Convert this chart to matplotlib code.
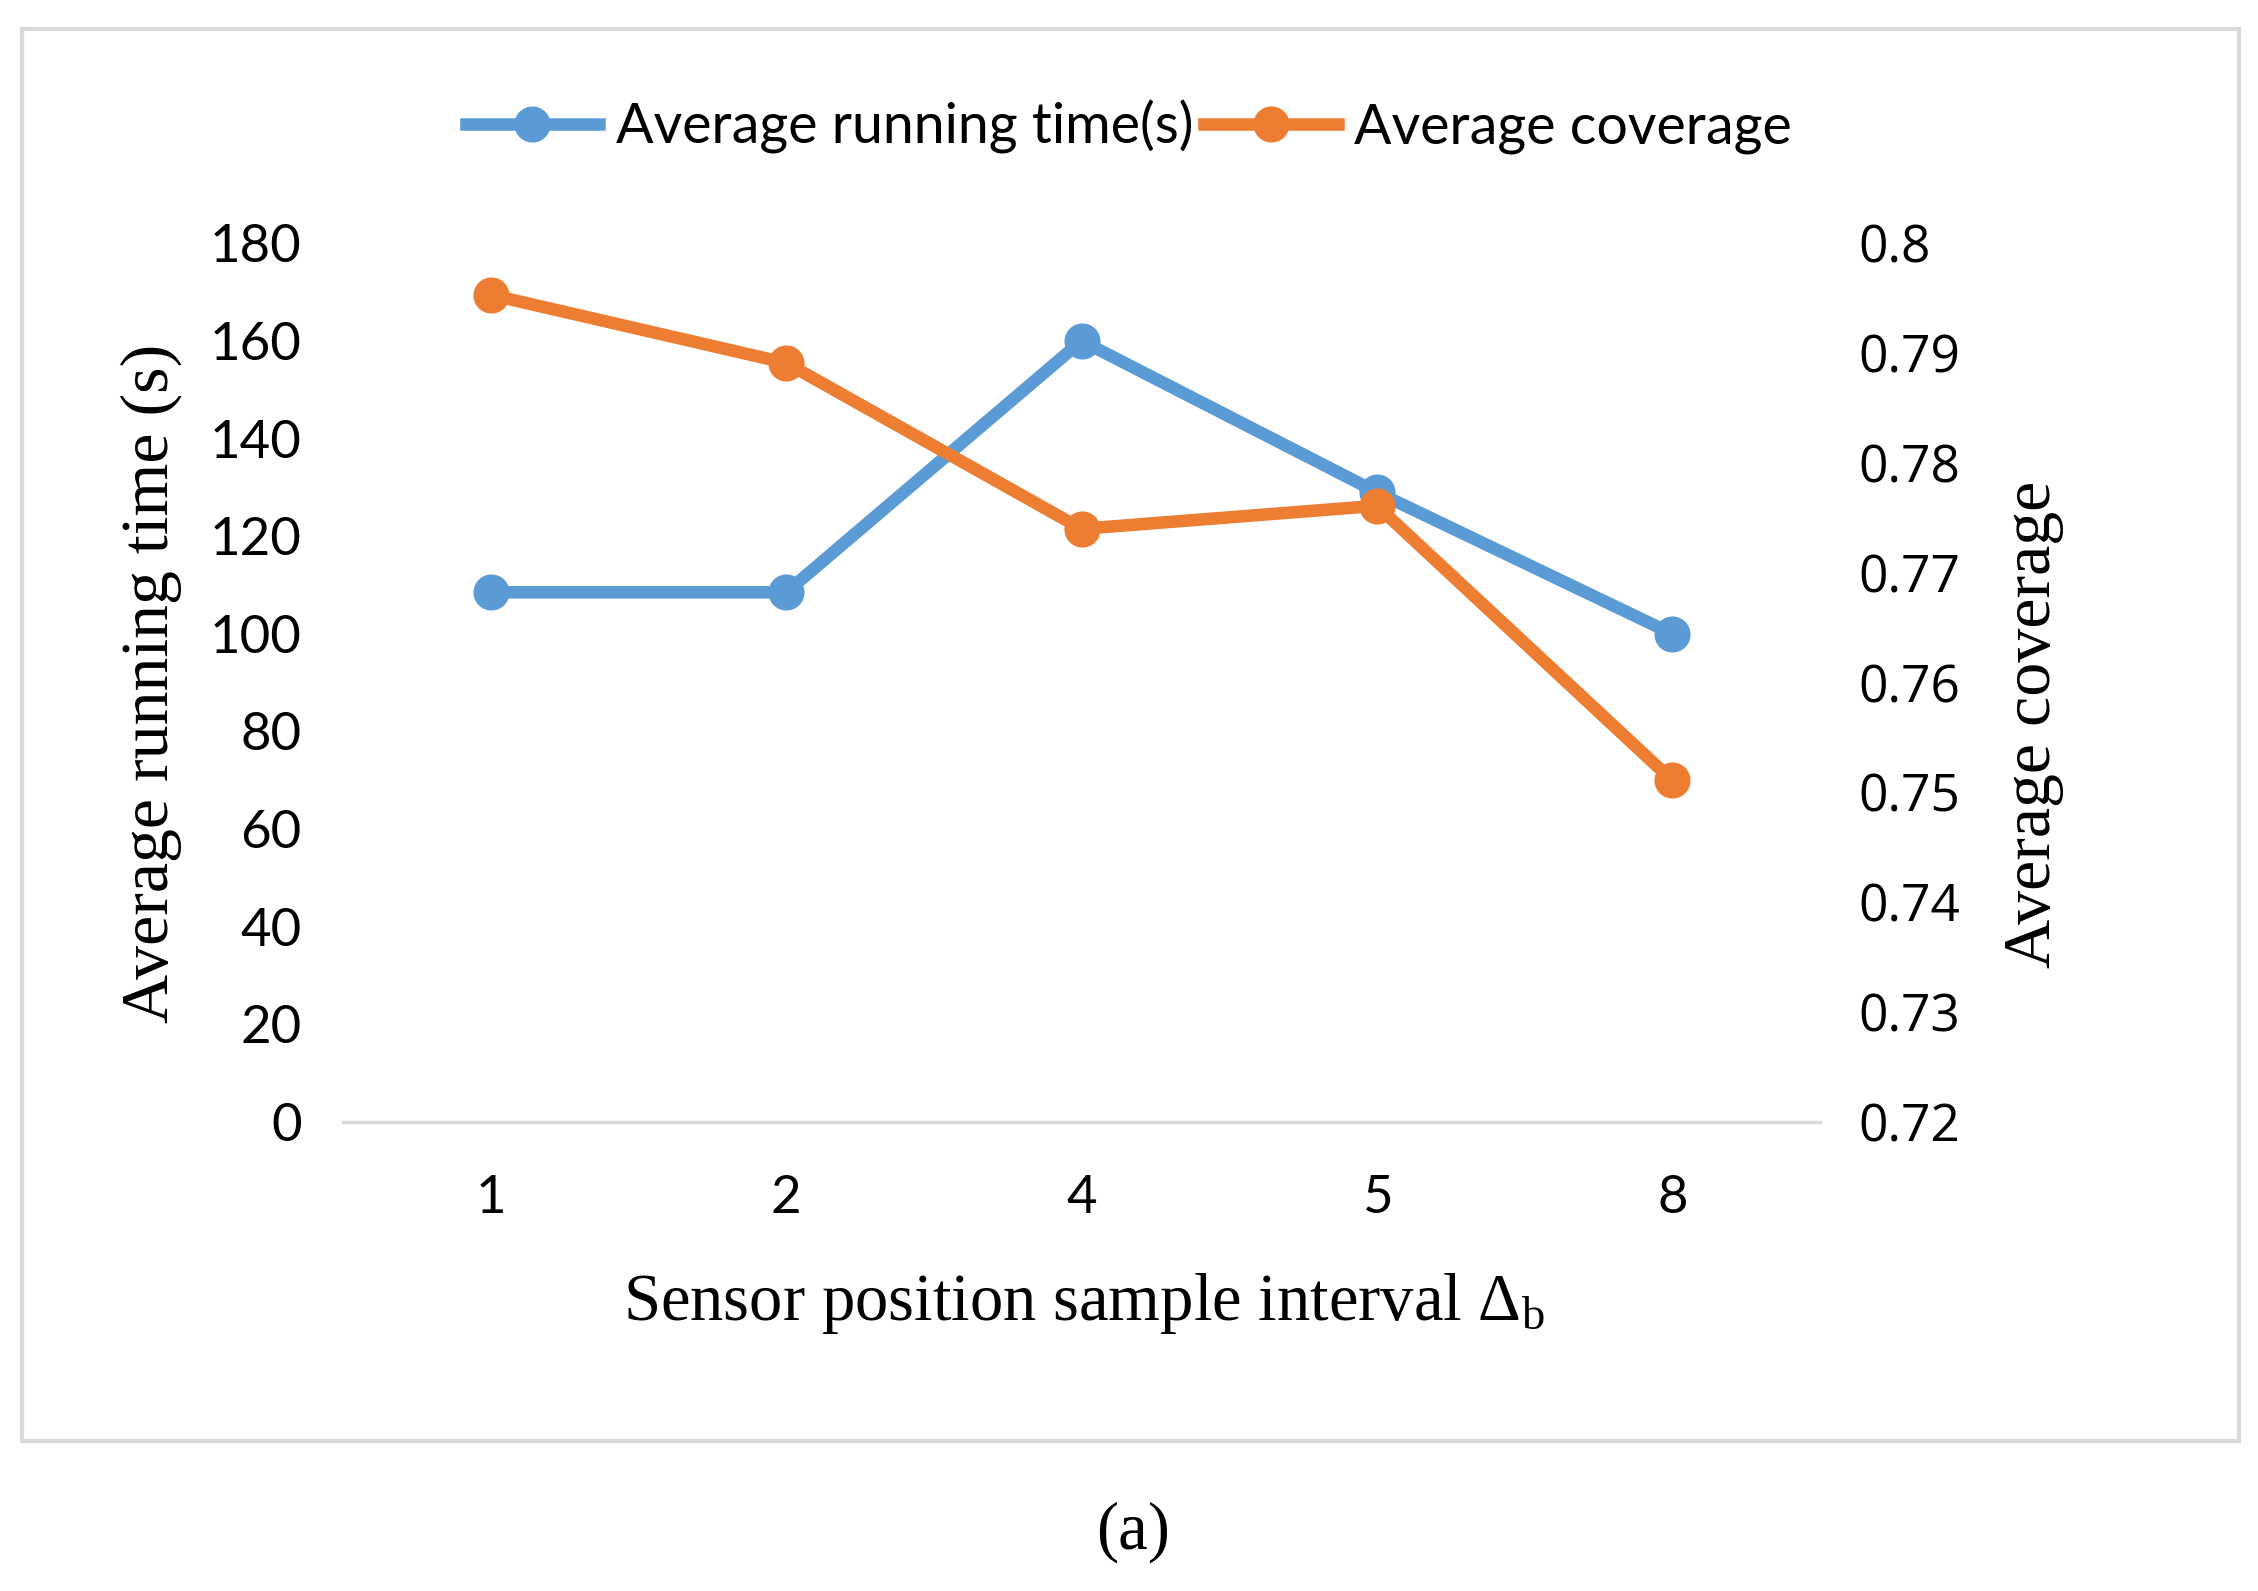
import matplotlib
matplotlib.use('Agg')
import matplotlib.pyplot as plt
from matplotlib.patches import Rectangle

# data
intervals = ['1', '2', '4', '5', '8']
run_time = [108.5, 108.5, 160, 129, 100]
coverage = [0.7953, 0.7891, 0.7740, 0.7761, 0.7511]

left_ticks = [0, 20, 40, 60, 80, 100, 120, 140, 160, 180]
right_ticks = [0.72, 0.73, 0.74, 0.75, 0.76, 0.77, 0.78, 0.79, 0.8]
right_labels = ['0.72', '0.73', '0.74', '0.75', '0.76', '0.77', '0.78', '0.79', '0.8']

blue = '#5B9BD5'
orange = '#ED7D31'
grey = '#D9D9D9'
tick_font = 'Lato'
serif = 'Liberation Serif'

plt.rcParams['mathtext.fontset'] = 'custom'
plt.rcParams['mathtext.rm'] = serif
plt.rcParams['mathtext.it'] = serif + ':italic'

fig = plt.figure(figsize=(22.58, 15.91), dpi=100)
fig.patches.append(Rectangle((0.0096, 0.094), 0.9821, 0.888, transform=fig.transFigure,
                             fill=False, edgecolor=grey, linewidth=3))

ax = fig.add_axes([0.152, 0.2948, 0.654, 0.5523])
ax2 = ax.twinx()
x = list(range(len(intervals)))

l1, = ax.plot(x, run_time, color=blue, linewidth=9, marker='o', markersize=25,
              label='Average running time(s)', zorder=3)
l2, = ax2.plot(x, coverage, color=orange, linewidth=9, marker='o', markersize=25,
               label='Average coverage', zorder=3)

ax.set_xlim(-0.5, len(intervals) - 0.5)
ax.set_ylim(0, 180)
ax2.set_ylim(0.72, 0.8)
ax.set_yticks(left_ticks)
ax2.set_yticks(right_ticks)
ax2.set_yticklabels(right_labels)
ax.set_xticks(x)
ax.set_xticklabels(intervals)

for a in (ax, ax2):
    for s in a.spines.values():
        s.set_visible(False)
    a.tick_params(length=0)
ax.spines['bottom'].set_visible(True)
ax.spines['bottom'].set_color(grey)
ax.spines['bottom'].set_linewidth(2.5)

ax.tick_params(axis='y', pad=30, labelsize=38)
ax.tick_params(axis='x', pad=38, labelsize=38)
ax2.tick_params(axis='y', pad=28, labelsize=37)
for lab in ax.get_xticklabels() + ax.get_yticklabels():
    lab.set_fontfamily(tick_font)
for lab in ax2.get_yticklabels():
    lab.set_fontfamily('Open Sans')

fig.text(0.067, 0.5705, 'Average running time (s)', rotation=90, ha='center', va='center',
         fontsize=49, fontfamily=serif)
fig.text(0.9006, 0.545, 'Average coverage', rotation=90, ha='center', va='center',
         fontsize=49, fontfamily=serif)
fig.text(0.48, 0.181, r'Sensor position sample interval $\Delta_\mathrm{b}$', ha='center', va='center',
         fontsize=48, fontfamily=serif)
fig.text(0.502, 0.037, '(a)', ha='center', va='center', fontsize=48, fontfamily=serif)

fig.legend(handles=[l1, l2], loc='center', bbox_to_anchor=(0.5, 0.92), ncol=2, frameon=False,
           prop={'family': tick_font, 'size': 40}, handlelength=2.4, columnspacing=0.2,
           handletextpad=0.3)

fig.savefig('out.png', dpi=100)
